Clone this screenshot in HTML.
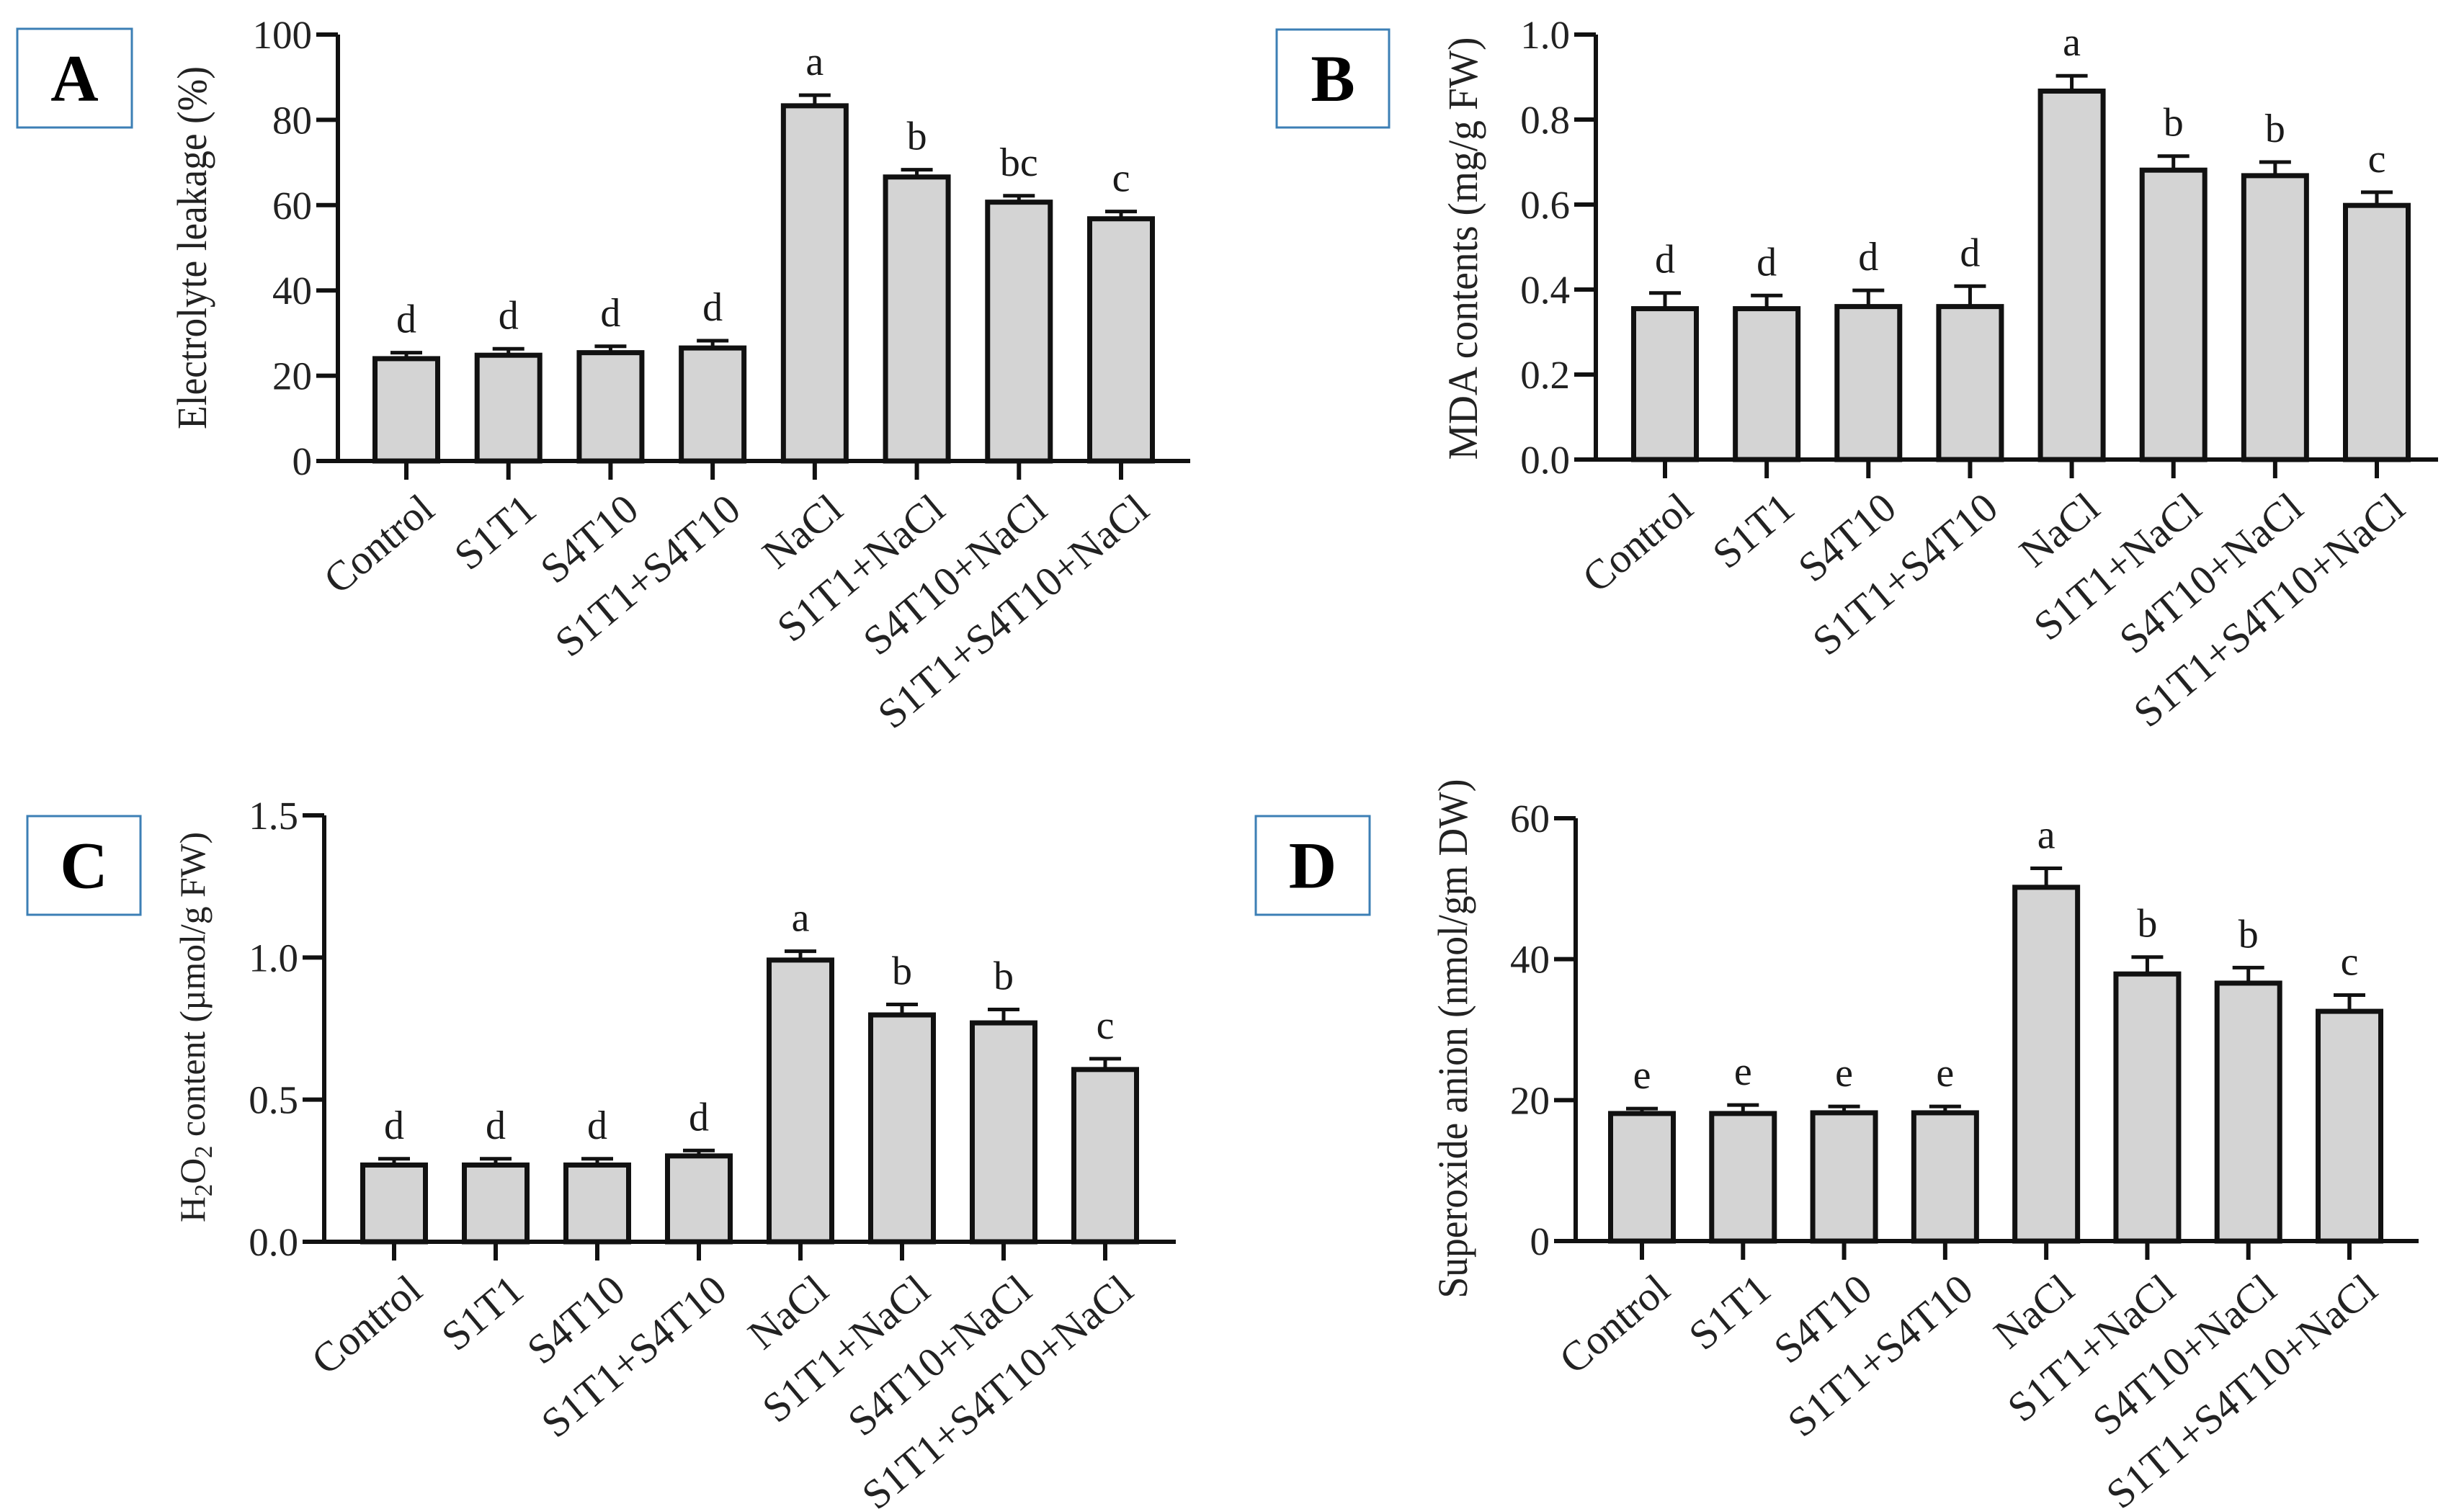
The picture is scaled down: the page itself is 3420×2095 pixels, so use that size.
<!DOCTYPE html>
<html><head><meta charset="utf-8"><style>
html,body{margin:0;padding:0;background:#fff;}
svg{display:block;}
text{font-family:"Liberation Serif",serif;fill:#1a1a1a;}
</style></head><body>
<svg id="fig" width="3420" height="2095" viewBox="0 0 3420 2095"></svg>
<script>
const categories = ["Control","S1T1","S4T10","S1T1+S4T10","NaCl","S1T1+NaCl","S4T10+NaCl","S1T1+S4T10+NaCl"];
const valuesA = [24.0,24.8,25.4,26.5,83.3,66.6,60.7,56.8];
const errorsA = [1.4,1.5,1.5,1.7,2.5,1.7,1.5,1.7];
const lettersA = ["d","d","d","d","a","b","bc","c"];
const ticksA = [0,20,40,60,80,100];
const valuesB = [0.355,0.355,0.36,0.36,0.867,0.681,0.668,0.598];
const errorsB = [0.037,0.031,0.038,0.048,0.036,0.033,0.032,0.031];
const lettersB = ["d","d","d","d","a","b","b","c"];
const ticksB = [0.0,0.2,0.4,0.6,0.8,1.0];
const valuesC = [0.27,0.27,0.27,0.302,0.991,0.798,0.77,0.606];
const errorsC = [0.022,0.022,0.022,0.019,0.031,0.037,0.047,0.038];
const lettersC = ["d","d","d","d","a","b","b","c"];
const ticksC = [0.0,0.5,1.0,1.5];
const valuesD = [18.1,18.1,18.2,18.2,50.2,37.9,36.6,32.6];
const errorsD = [0.7,1.2,0.9,0.9,2.7,2.4,2.2,2.3];
const lettersD = ["e","e","e","e","a","b","b","c"];
const ticksD = [0,20,40,60];

const NS = "http://www.w3.org/2000/svg";
const svg = document.getElementById("fig");
function mk(tag, attrs, parent){
  const e = document.createElementNS(NS, tag);
  for (const k in attrs) e.setAttribute(k, attrs[k]);
  (parent||svg).appendChild(e);
  return e;
}

function panel(cfg){
  const g = mk("g", {});
  
  
  const yScale = v => cfg.y0 - (v - cfg.vmin) / (cfg.vmax - cfg.vmin) * (cfg.y0 - cfg.yTop);
  const xScale = i => cfg.x0c + i * (cfg.x1c - cfg.x0c) / (categories.length - 1);
  const bw = 87;

  const box = mk("rect", {x:cfg.box[0], y:cfg.box[1], width:cfg.box[2]-cfg.box[0], height:cfg.box[3]-cfg.box[1], fill:"#fff", stroke:"#3c7fb5", "stroke-width":3}, g);
  
  
  const lt = mk("text", {x:(cfg.box[0]+cfg.box[2])/2, y:(cfg.box[1]+cfg.box[3])/2+31, "text-anchor":"middle", "font-size":92, "font-weight":"bold", style:"fill:#000"}, g);
  lt.textContent = cfg.id;
  
  

  const values = cfg.values;
  for (let i=0;i<values.length;i++){
    const cx = xScale(i);
    const top = yScale(values[i]);
    const eTop = yScale(values[i] + cfg.errors[i]);
    const eb = mk("line", {x1:cx, x2:cx, y1:top, y2:eTop, stroke:"#111", "stroke-width":5}, g);
    
    
    const cap = mk("line", {x1:cx-22, x2:cx+22, y1:eTop, y2:eTop, stroke:"#111", "stroke-width":5}, g);
    
    
    const r = mk("rect", {x:cx-bw/2, y:top, width:bw, height:cfg.y0-top, fill:"#d4d4d4", stroke:"#111", "stroke-width":7}, g);
    
    
    const lt2 = mk("text", {x:cx, y:eTop-28, "text-anchor":"middle", "font-size":56}, g);
    lt2.textContent = cfg.letters[i];
    
    
    const tk = mk("line", {x1:cx, x2:cx, y1:cfg.y0, y2:cfg.y0+26, stroke:"#111", "stroke-width":6}, g);
    
    
    const cl = mk("text", {transform:`translate(${cx+16},${cfg.y0+42}) rotate(-40)`, "text-anchor":"end", dy:"0.7em", "font-size":58, style:"fill:#222"}, g);
    cl.textContent = categories[i];
    
    
  }
  const ya = mk("line", {x1:cfg.x0, x2:cfg.x0, y1:cfg.yTop, y2:cfg.y0+3, stroke:"#111", "stroke-width":6}, g);
  
  
  const xa = mk("line", {x1:cfg.x0-30, x2:cfg.xEnd, y1:cfg.y0, y2:cfg.y0, stroke:"#111", "stroke-width":6}, g);
  
  
  for (const t of cfg.ticks){
    const y = yScale(t);
    const tl = mk("line", {x1:cfg.x0-30, x2:cfg.x0, y1:y, y2:y, stroke:"#111", "stroke-width":6}, g);
    
    
    const tt = mk("text", {x:cfg.x0-36, y:y+19, "text-anchor":"end", "font-size":55, style:"fill:#222"}, g);
    tt.textContent = cfg.fmt(t);
    
    
  }
  const ttl = mk("text", {transform:`translate(${cfg.tx},${cfg.ty}) rotate(-90)`, "text-anchor":"middle", "font-size":cfg.tfs, textLength:cfg.tlen, lengthAdjust:"spacingAndGlyphs", style:"fill:#222"}, g);
  
  
  if (cfg.titleParts){
    for (const p of cfg.titleParts){
      const s = mk("tspan", p.sub ? {"font-size":cfg.tfs*0.7, dy:10} : (p.after ? {dy:-10} : {}), ttl);
      s.textContent = p.t;
    }
  } else ttl.textContent = cfg.title;
}

panel({id:"A", values:valuesA, errors:errorsA, letters:lettersA, ticks:ticksA, vmin:0, vmax:100,
  x0:469, y0:640, yTop:48, xEnd:1652, x0c:564, x1c:1556, box:[24,40,183,177],
  fmt:t=>String(t), title:"Electrolyte leakage (%)", tx:286, ty:344, tfs:58, tlen:504});
panel({id:"B", values:valuesB, errors:errorsB, letters:lettersB, ticks:ticksB, vmin:0, vmax:1,
  x0:2215, y0:638, yTop:48, xEnd:3384, x0c:2311, x1c:3299, box:[1772,41,1928,177],
  fmt:t=>t.toFixed(1), title:"MDA contents (mg/g FW)", tx:2050, ty:345, tfs:58, tlen:587});
panel({id:"C", values:valuesC, errors:errorsC, letters:lettersC, ticks:ticksC, vmin:0, vmax:1.5,
  x0:450, y0:1724, yTop:1132, xEnd:1632, x0c:547, x1c:1534, box:[38,1133,195,1270],
  fmt:t=>t.toFixed(1), tx:284, ty:1426, tfs:50, tlen:542,
  titleParts:[{t:"H"},{t:"2",sub:true},{t:"O",after:true},{t:"2",sub:true},{t:" content (µmol/g FW)",after:true}]});
panel({id:"D", values:valuesD, errors:errorsD, letters:lettersD, ticks:ticksD, vmin:0, vmax:60,
  x0:2187, y0:1723, yTop:1136, xEnd:3357, x0c:2279, x1c:3261, box:[1743,1133,1901,1270],
  fmt:t=>String(t), title:"Superoxide anion (nmol/gm DW)", tx:2036, ty:1442, tfs:58, tlen:721});
</script>
</body></html>
